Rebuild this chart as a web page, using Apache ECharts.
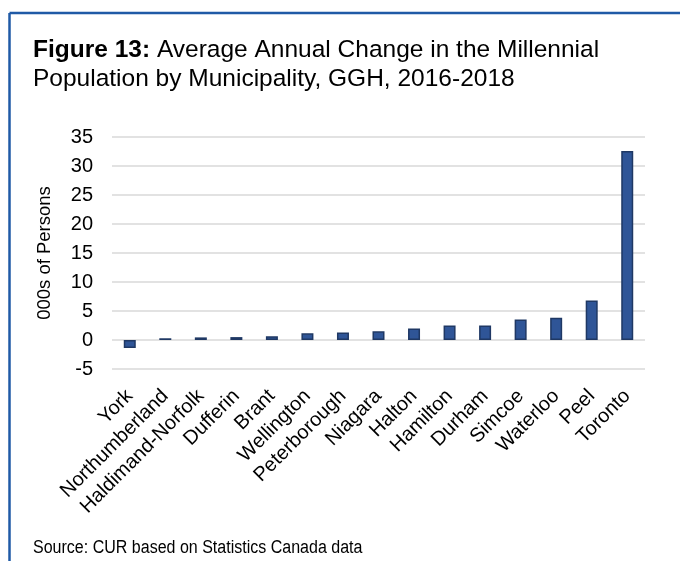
<!DOCTYPE html>
<html>
<head>
<meta charset="utf-8">
<script src="https://cdn.jsdelivr.net/npm/echarts@6/dist/echarts.min.js"></script>
<style>
  html, body { margin: 0; padding: 0; background: #ffffff; }
  #chart { width: 680px; height: 561px; }
</style>
</head>
<body>
<div id="chart"></div>
<script>
// Municipalities in ascending order of average annual change
const municipalities = [
  'York', 'Northumberland', 'Haldimand-Norfolk', 'Dufferin', 'Brant',
  'Wellington', 'Peterborough', 'Niagara', 'Halton', 'Hamilton',
  'Durham', 'Simcoe', 'Waterloo', 'Peel', 'Toronto'
];
// Average annual change in millennial population, thousands of persons
const changeThousands = [
  -1.4, 0.3, 0.45, 0.5, 0.65,
  1.15, 1.3, 1.5, 2.0, 2.5,
  2.5, 3.55, 3.85, 6.8, 32.6
];
// Value axis ticks
const yMin = -5, yMax = 35, yStep = 5;

const FONT = 'Liberation Sans, Arial, sans-serif';
const chart = echarts.init(document.getElementById('chart'));

chart.setOption({
  animation: false,
  backgroundColor: '#ffffff',
  graphic: [
    // blue frame along top and left edges
    { type: 'line', shape: { x1: 9.5, y1: 13, x2: 680, y2: 13 },
      style: { stroke: '#1f5aa6', lineWidth: 2.5 } },
    { type: 'line', shape: { x1: 9.5, y1: 13, x2: 9.5, y2: 561 },
      style: { stroke: '#1f5aa6', lineWidth: 2.5 } },
    // two-line heading
    { type: 'text', x: 33, y: 38,
      style: { text: '{b|Figure 13:} Average Annual Change in the Millennial',
        rich: { b: { fontWeight: 'bold', fontSize: 24.5, fontFamily: FONT, fill: '#000' } },
        fontSize: 24.5, fontFamily: FONT, fill: '#000', verticalAlign: 'top' } },
    { type: 'text', x: 33, y: 67,
      style: { text: 'Population by Municipality, GGH, 2016-2018',
        fontSize: 24.5, fontFamily: FONT, fill: '#000', verticalAlign: 'top' } },
    { type: 'text', x: 33, y: 539, scaleX: 0.89,
      style: { text: 'Source: CUR based on Statistics Canada data',
        fontSize: 18, fontFamily: FONT, fill: '#000', verticalAlign: 'top' } }
  ],
  grid: { left: 112, right: 35, top: 137, bottom: 192, containLabel: false },
  xAxis: {
    type: 'category',
    data: municipalities,
    axisLine: { show: false },
    axisTick: { show: false },
    axisLabel: {
      rotate: 45, interval: 0, margin: 24,
      fontSize: 20, fontFamily: FONT, color: '#000'
    }
  },
  yAxis: {
    type: 'value',
    min: yMin, max: yMax, interval: yStep,
    name: '000s of Persons',
    nameLocation: 'middle',
    nameGap: 58,
    nameTextStyle: { fontSize: 18.5, fontFamily: FONT, color: '#000' },
    axisLine: { show: false },
    axisTick: { show: false },
    axisLabel: { margin: 19, fontSize: 20, fontFamily: FONT, color: '#000' },
    splitLine: { lineStyle: { color: '#d9d9d9', width: 1.5 } }
  },
  series: [{
    type: 'bar',
    data: changeThousands,
    barWidth: 12,
    itemStyle: { color: '#2f5597', borderColor: '#1f3864', borderWidth: 1.5 }
  }]
});
</script>
</body>
</html>
